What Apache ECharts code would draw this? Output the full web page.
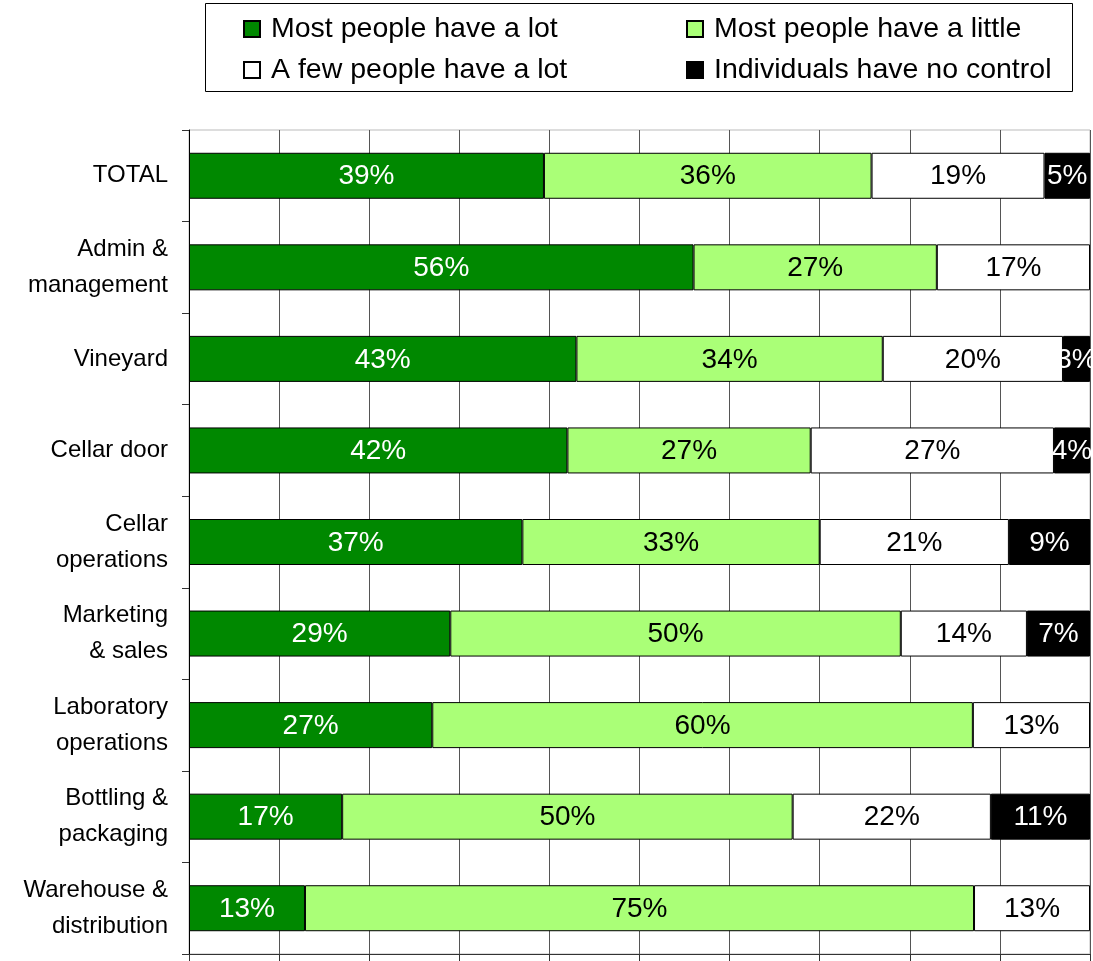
<!DOCTYPE html>
<html>
<head>
<meta charset="utf-8">
<script src="https://cdn.jsdelivr.net/npm/echarts@6/dist/echarts.min.js"></script>
<style>
html,body{margin:0;padding:0;background:#fff;}
#c{width:1093px;height:961px;}
</style>
</head>
<body>
<div id="c"></div>
<script>
const categories = ['TOTAL', 'Admin &\nmanagement', 'Vineyard', 'Cellar door', 'Cellar\noperations', 'Marketing\n& sales', 'Laboratory\noperations', 'Bottling &\npackaging', 'Warehouse &\ndistribution'];
const seriesNames = ['Most people have a lot', 'Most people have a little', 'A few people have a lot', 'Individuals have no control'];
const lotValues    = [39, 56, 43, 42, 37, 29, 27, 17, 13];
const littleValues = [36, 27, 34, 27, 33, 50, 60, 50, 75];
const fewValues    = [19, 17, 20, 27, 21, 14, 13, 22, 13];
const noneValues   = [5, 0, 3, 4, 9, 7, 0, 11, 0];
const colors = ['#008800', '#aaff77', '#ffffff', '#000000'];
const labelColors = ['#ffffff', '#000000', '#000000', '#ffffff'];

const raw = [lotValues, littleValues, fewValues, noneValues];
// 100% stacked: each row is shown as share of its own total, labels keep the raw values
const rowTotals = categories.map((_, i) => raw.reduce((s, arr) => s + arr[i], 0));

const FONT = '"Liberation Sans", Arial, sans-serif';

const series = raw.map((arr, k) => ({
  name: seriesNames[k],
  type: 'bar',
  stack: 'all',
  barWidth: 46,
  itemStyle: { color: colors[k], borderColor: '#000', borderWidth: 1 },
  label: {
    show: true,
    position: 'inside',
    fontFamily: FONT,
    fontSize: 28,
    offset: [0, 1],
    color: labelColors[k],
    formatter: p => arr[p.dataIndex] ? arr[p.dataIndex] + '%' : ''
  },
  emphasis: { disabled: true },
  data: arr.map((v, i) => v ? v / rowTotals[i] * 100 : '-')
}));

const legendText = { fontFamily: FONT, fontSize: 28.5, color: '#000', lineHeight: 30, padding: [0, 0, 0, 6] };

const chart = echarts.init(document.getElementById('c'), null, { renderer: 'canvas' });
chart.setOption({
  animation: false,
  backgroundColor: '#fff',
  graphic: [{
    type: 'rect',
    shape: { x: 205.5, y: 3.5, width: 867, height: 88 },
    style: { fill: 'none', stroke: '#000', lineWidth: 1 },
    z: 0
  }],
  legend: [
    {
      data: [seriesNames[0], seriesNames[2]],
      orient: 'vertical',
      left: 243, top: 14,
      padding: 0,
      itemWidth: 16, itemHeight: 16, itemGap: 11,
      icon: 'rect',
      textStyle: legendText
    },
    {
      data: [seriesNames[1], seriesNames[3]],
      orient: 'vertical',
      left: 686, top: 14,
      padding: 0,
      itemWidth: 16, itemHeight: 16, itemGap: 11,
      icon: 'rect',
      textStyle: legendText
    }
  ],
  grid: { left: 189, right: 3, top: 130, bottom: 7, show: true, borderColor: '#bbbbbb', borderWidth: 1, containLabel: false },
  xAxis: {
    type: 'value',
    min: 0, max: 100, interval: 10,
    axisLine: { show: true, lineStyle: { color: '#333', width: 1 } },
    axisTick: { show: true, length: 8, lineStyle: { color: '#333' } },
    axisLabel: { show: false },
    splitLine: { show: true, lineStyle: { color: '#555', width: 1 } }
  },
  yAxis: {
    type: 'category',
    inverse: true,
    data: categories,
    axisLine: { show: true, lineStyle: { color: '#000', width: 1 } },
    axisTick: { show: true, length: 7, lineStyle: { color: '#333' } },
    axisLabel: { fontFamily: FONT, fontSize: 24, color: '#000', lineHeight: 36, margin: 21, align: 'right' },
    splitLine: { show: false }
  },
  series: series
});
</script>
</body>
</html>
